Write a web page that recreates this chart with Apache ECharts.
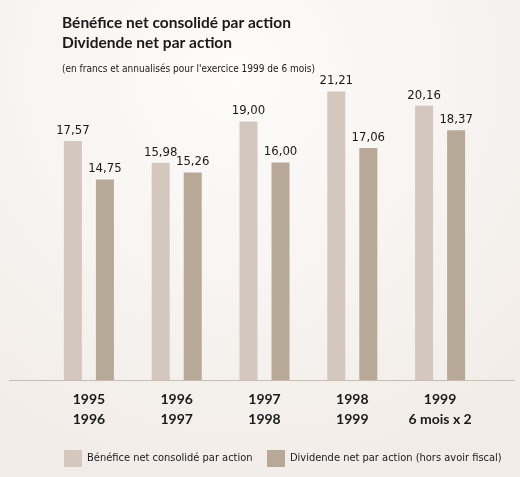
<!DOCTYPE html>
<html><head><meta charset="utf-8">
<script src="https://cdn.jsdelivr.net/npm/echarts@6/dist/echarts.min.js"></script>
<style>html,body{margin:0;padding:0;}#c{width:520px;height:477px;}</style>
</head><body><div id="c"></div>
<script>
const categories = ["1995\n1996", "1996\n1997", "1997\n1998", "1998\n1999", "1999\n6 mois x 2"];
const benefice = [17.57, 15.98, 19.00, 21.21, 20.16];
const dividende = [14.75, 15.26, 16.00, 17.06, 18.37];
const seriesNames = ["Bénéfice net consolidé par action", "Dividende net par action (hors avoir fiscal)"];
const titleText = "Bénéfice net consolidé par action\nDividende net par action";
const subText = "(en francs et annualisés pour l'exercice 1999 de 6 mois)";

const narrow = '"Liberation Sans Narrow", "DejaVu Sans Condensed", sans-serif';
const fmt = p => p.value.toFixed(2).replace('.', ',');
const legendText = {fontFamily: narrow, fontSize: 11, color: '#1a1a1a'};
const chart = echarts.init(document.getElementById('c'));
chart.setOption({
  backgroundColor: {type: 'radial', x: 0.45, y: 0.15, r: 0.9,
    colorStops: [{offset: 0, color: '#fdfcfb'}, {offset: 1, color: '#f1ece7'}]},
  animation: false,
  title: {
    text: titleText, subtext: subText, left: 57, top: 8, itemGap: 11,
    textStyle: {fontFamily: 'Lato', fontWeight: 'bold', fontSize: 15.5, lineHeight: 20, color: '#1a1a1a'},
    subtextStyle: {fontFamily: narrow, fontSize: 10, color: '#1a1a1a'}
  },
  legend: [
    {data: [seriesNames[0]], left: 59, top: 445, itemWidth: 18, itemHeight: 17, icon: 'rect', textStyle: legendText},
    {data: [seriesNames[1]], left: 262, top: 445, itemWidth: 18, itemHeight: 17, icon: 'rect', textStyle: legendText}
  ],
  grid: {left: 45, right: 36, top: 40, bottom: 97},
  xAxis: {
    type: 'category', data: categories,
    axisLine: {show: false}, axisTick: {show: false},
    axisLabel: {fontFamily: 'Lato', fontWeight: 'bold', fontSize: 14, lineHeight: 20, color: '#1a1a1a', margin: 9}
  },
  yAxis: {type: 'value', min: 0, max: 25, show: false, splitLine: {show: false}},
  graphic: [{type: 'line', shape: {x1: 9, y1: 380.5, x2: 515, y2: 380.5},
    style: {stroke: '#c9bcb1', lineWidth: 1}, z: 10}],
  series: [
    {name: seriesNames[0], type: 'bar', data: benefice, barWidth: 18, barGap: '78%',
      itemStyle: {color: '#d4c7bd'},
      label: {show: true, position: 'top', distance: 4, formatter: fmt, fontFamily: narrow, fontSize: 13, color: '#1a1a1a'}},
    {name: seriesNames[1], type: 'bar', data: dividende, barWidth: 18,
      itemStyle: {color: '#b8a898'},
      label: {show: true, position: 'top', distance: 4, formatter: fmt, fontFamily: narrow, fontSize: 13, color: '#1a1a1a'}}
  ]
});
</script></body></html>
